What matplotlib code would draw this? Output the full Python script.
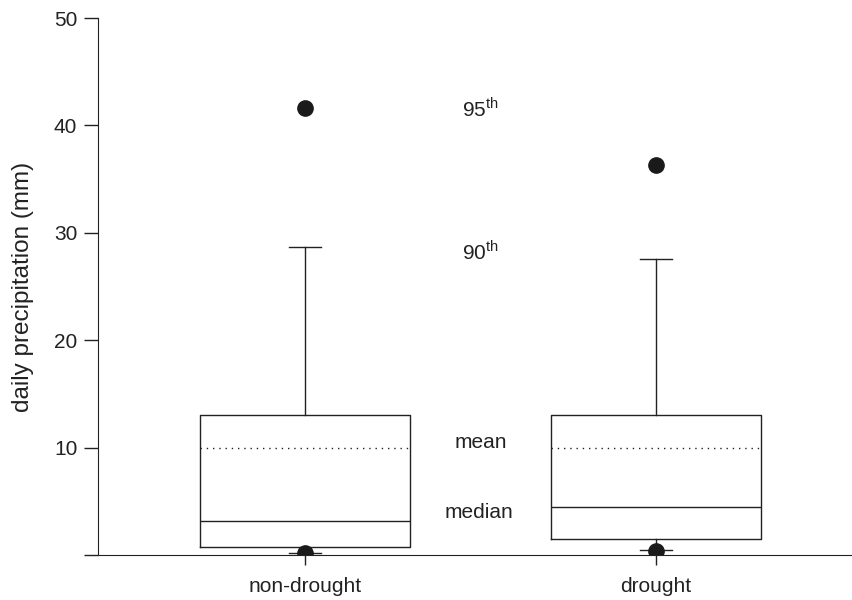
import matplotlib.pyplot as plt

plt.rcParams['font.family'] = ['Liberation Sans', 'DejaVu Sans']

# box statistics (mm)
groups = ['non-drought', 'drought']
p10 = [0.15, 0.45]
p25 = [0.7, 1.5]
medians = [3.2, 4.5]
means = [10.0, 10.0]
p75 = [13.0, 13.0]
p90 = [28.7, 27.6]
p5 = [0.2, 0.4]
p95 = [41.6, 36.3]

yticks = [0, 10, 20, 30, 40, 50]
ytick_labels = ['', '10', '20', '30', '40', '50']

stats = []
for i in range(len(groups)):
    stats.append({'label': groups[i], 'whislo': p10[i], 'q1': p25[i], 'med': medians[i],
                  'mean': means[i], 'q3': p75[i], 'whishi': p90[i], 'fliers': [p5[i], p95[i]]})

fig = plt.figure(figsize=(8.53, 6.0), dpi=100)
ax = fig.add_axes([0.115, 0.075, 0.884, 0.895])

ink = '#222222'
ax.bxp(stats, positions=[1, 2], widths=0.6, showmeans=True, meanline=True,
       boxprops=dict(color=ink, linewidth=1.0),
       medianprops=dict(color=ink, linewidth=1.0),
       meanprops=dict(color=ink, linewidth=1.0, linestyle=(0, (1, 3.5))),
       whiskerprops=dict(color=ink, linewidth=1.0),
       capprops=dict(color=ink, linewidth=1.0),
       capwidths=0.09,
       flierprops=dict(marker='o', markersize=11, markerfacecolor='#1a1a1a', markeredgecolor='#1a1a1a'))

# annotations between the boxes
ax.text(1.449, 40.8, r'95$^{\mathregular{th}}$', fontsize=15, color=ink, va='baseline')
ax.text(1.449, 27.5, r'90$^{\mathregular{th}}$', fontsize=15, color=ink, va='baseline')
ax.text(1.427, 10.5, 'mean', fontsize=15, color=ink, va='center')
ax.text(1.399, 4.0, 'median', fontsize=15, color=ink, va='center')

ax.set_xlim(0.41, 2.56)
ax.set_ylim(0, 50)
ax.set_yticks(yticks)
ax.set_yticklabels(ytick_labels)
ax.set_xticks([1, 2])
ax.set_xticklabels(groups)
ax.tick_params(axis='both', labelsize=15, colors=ink, length=10, width=1.0, direction='out', pad=5)
ax.tick_params(axis='x', length=7, pad=9)
ax.set_ylabel('daily precipitation (mm)', fontsize=17.5, color=ink, labelpad=14)

ax.spines['top'].set_visible(False)
ax.spines['right'].set_visible(False)
ax.spines['left'].set_color(ink)
ax.spines['bottom'].set_color(ink)

fig.savefig('out.png', dpi=100)
